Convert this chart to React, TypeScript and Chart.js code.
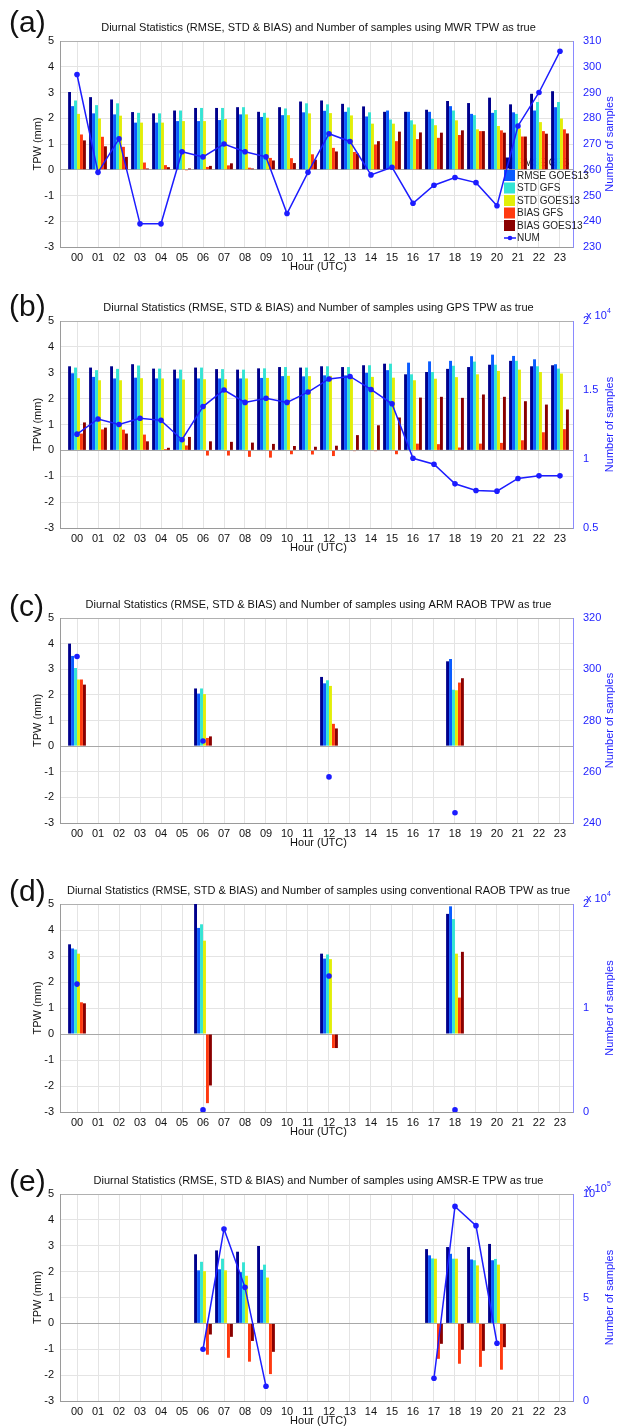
import React, { useEffect, useRef } from "react";
import { Chart, registerables } from "chart.js";

Chart.register(...registerables);

const FONT = "'Liberation Sans', Arial, Helvetica, sans-serif";

// ---------- categories ----------
const HOURS = [0, 1, 2, 3, 4, 5, 6, 7, 8, 9, 10, 11, 12, 13, 14, 15, 16, 17, 18, 19, 20, 21, 22, 23];
const HOUR_LABELS = ["00", "01", "02", "03", "04", "05", "06", "07", "08", "09", "10", "11", "12", "13", "14", "15", "16", "17", "18", "19", "20", "21", "22", "23"];
const SERIES = ["RMSE GFS", "RMSE GOES13", "STD GFS", "STD GOES13", "BIAS GFS", "BIAS GOES13"];
const COLORS = ["#00008c", "#0a5cff", "#34e4d4", "#e2ee08", "#ff3a10", "#8a0000"];
const NUM_COLOR = "#1c1cff";
const Y_TICKS = [-3, -2, -1, 0, 1, 2, 3, 4, 5];

// ---------- (a) MWR ----------
const A_RMSE_GFS = [3.02, 2.82, 2.73, 2.24, 2.19, 2.30, 2.40, 2.40, 2.43, 2.25, 2.43, 2.65, 2.69, 2.56, 2.46, 2.25, 2.25, 2.33, 2.67, 2.59, 2.80, 2.54, 2.95, 3.05];
const A_RMSE_GOES = [2.47, 2.19, 2.15, 1.83, 1.83, 1.89, 1.89, 1.93, 2.15, 2.05, 2.12, 2.23, 2.29, 2.25, 2.07, 2.30, 2.25, 2.25, 2.47, 2.17, 2.21, 2.23, 2.30, 2.43];
const A_STD_GFS = [2.69, 2.51, 2.58, 2.21, 2.19, 2.30, 2.40, 2.40, 2.43, 2.21, 2.38, 2.58, 2.54, 2.42, 2.23, 1.95, 1.92, 1.98, 2.30, 2.12, 2.32, 2.17, 2.63, 2.63];
const A_STD_GOES = [2.17, 1.99, 2.10, 1.83, 1.83, 1.89, 1.89, 1.97, 2.15, 2.02, 2.12, 2.19, 2.20, 2.11, 1.79, 1.79, 1.76, 1.73, 1.92, 1.57, 1.70, 1.60, 1.85, 1.99];
const A_BIAS_GFS = [1.37, 1.28, 0.89, 0.28, 0.18, -0.03, 0.11, 0.17, 0.08, 0.46, 0.45, 0.60, 0.85, 0.69, 0.98, 1.11, 1.19, 1.24, 1.35, 1.50, 1.53, 1.29, 1.50, 1.57];
const A_BIAS_GOES = [1.14, 0.91, 0.50, 0.05, 0.10, 0.05, 0.15, 0.25, 0.05, 0.36, 0.26, 0.39, 0.71, 0.63, 1.11, 1.48, 1.45, 1.44, 1.53, 1.50, 1.44, 1.29, 1.40, 1.41];
const A_NUM = [297, 259, 272, 239, 239, 267, 265, 270, 267, 265, 243, 259, 274, 271, 258, 261, 247, 254, 257, 255, 246, 277, 290, 306];
const A_NUM_TICKS = [230, 240, 250, 260, 270, 280, 290, 300, 310];

// ---------- (b) GPS ----------
const B_RMSE_GFS = [3.25, 3.20, 3.25, 3.33, 3.16, 3.12, 3.20, 3.14, 3.12, 3.17, 3.22, 3.20, 3.25, 3.22, 3.29, 3.35, 2.94, 3.03, 3.15, 3.22, 3.31, 3.46, 3.25, 3.29];
const B_RMSE_GOES = [2.98, 2.84, 2.78, 2.81, 2.78, 2.78, 2.78, 2.78, 2.78, 2.80, 2.87, 2.86, 2.90, 2.90, 3.00, 3.10, 3.39, 3.44, 3.46, 3.64, 3.70, 3.65, 3.52, 3.33];
const B_STD_GFS = [3.20, 3.10, 3.15, 3.28, 3.16, 3.12, 3.20, 3.14, 3.12, 3.17, 3.22, 3.20, 3.25, 3.22, 3.29, 3.35, 2.94, 3.03, 3.27, 3.43, 3.31, 3.46, 3.25, 3.16];
const B_STD_GOES = [2.79, 2.71, 2.71, 2.79, 2.78, 2.74, 2.75, 2.75, 2.78, 2.80, 2.88, 2.87, 2.88, 2.84, 2.84, 2.81, 2.71, 2.77, 2.83, 2.94, 3.07, 3.12, 3.03, 2.97];
const B_BIAS_GFS = [0.65, 0.81, 0.80, 0.61, 0.05, 0.19, -0.20, -0.20, -0.25, -0.28, -0.15, -0.16, -0.22, -0.03, -0.03, -0.15, 0.26, 0.24, 0.11, 0.26, 0.29, 0.39, 0.70, 0.82];
const B_BIAS_GOES = [1.08, 0.88, 0.65, 0.35, 0.10, 0.52, 0.35, 0.33, 0.30, 0.25, 0.17, 0.14, 0.18, 0.59, 0.97, 1.27, 2.04, 2.07, 2.03, 2.16, 2.07, 1.90, 1.77, 1.58];
const B_NUM = [11800, 12900, 12500, 12950, 12800, 11400, 13800, 15000, 14100, 14400, 14100, 14850, 15800, 15980, 15040, 14000, 10050, 9620, 8200, 7720, 7670, 8590, 8780, 8780];
const B_NUM_TICKS = [5000, 10000, 15000, 20000];

// ---------- (c) ARM RAOB ----------
const C_HOURS = [0, 6, 12, 18];
const C_RMSE_GFS = [4.0, 2.25, 2.70, 3.31];
const C_RMSE_GOES = [3.52, 2.05, 2.45, 3.40];
const C_STD_GFS = [3.05, 2.25, 2.57, 2.20];
const C_STD_GOES = [2.60, 2.03, 2.35, 2.18];
const C_BIAS_GFS = [2.60, 0.32, 0.87, 2.48];
const C_BIAS_GOES = [2.40, 0.38, 0.69, 2.65];
const C_NUM = [305, 272, 258, 244];
const C_NUM_TICKS = [240, 260, 280, 300, 320];

// ---------- (d) conventional RAOB ----------
const D_HOURS = [0, 6, 12, 18];
const D_RMSE_GFS = [3.45, 5.0, 3.09, 4.62];
const D_RMSE_GOES = [3.29, 4.08, 2.90, 4.91];
const D_STD_GFS = [3.25, 4.22, 3.06, 4.42];
const D_STD_GOES = [3.09, 3.59, 2.88, 3.09];
const D_BIAS_GFS = [1.22, -2.66, -0.54, 1.40];
const D_BIAS_GOES = [1.18, -1.98, -0.54, 3.16];
const D_NUM = [12300, 200, 13070, 200];
const D_NUM_TICKS = [0, 10000, 20000];

// ---------- (e) AMSR-E ----------
const E_HOURS = [6, 7, 8, 9, 17, 18, 19, 20];
const E_RMSE_GFS = [2.67, 2.82, 2.77, 2.99, 2.87, 2.95, 2.95, 3.07];
const E_RMSE_GOES = [2.05, 2.09, 1.98, 2.07, 2.63, 2.69, 2.47, 2.44];
const E_STD_GFS = [2.38, 2.50, 2.36, 2.27, 2.51, 2.50, 2.44, 2.49];
const E_STD_GOES = [2.02, 2.05, 1.84, 1.77, 2.50, 2.50, 2.24, 2.27];
const E_BIAS_GFS = [-1.21, -1.33, -1.48, -1.96, -1.37, -1.56, -1.68, -1.79];
const E_BIAS_GOES = [-0.43, -0.52, -0.68, -1.10, -0.79, -1.02, -1.06, -0.92];
const E_NUM = [250000, 831000, 549000, 71000, 110000, 940000, 847000, 279000];
const E_NUM_TICKS = [0, 500000, 1000000];

type PanelCfg = {
  letter: string;
  letterY: number;
  title: string;
  top: number;
  plotH: number;
  hours: number[];
  series: number[][];
  num: number[];
  numTicks: number[];
  numScale: number;
  exp: string | null;
  legend: boolean;
};

const PANELS: PanelCfg[] = [
  {
    letter: "(a)", letterY: 31, top: 1, plotH: 206,
    title: "Diurnal Statistics (RMSE, STD & BIAS) and Number of samples using MWR TPW as true",
    hours: HOURS, series: [A_RMSE_GFS, A_RMSE_GOES, A_STD_GFS, A_STD_GOES, A_BIAS_GFS, A_BIAS_GOES],
    num: A_NUM, numTicks: A_NUM_TICKS, numScale: 1, exp: null, legend: true,
  },
  {
    letter: "(b)", letterY: 35, top: 281, plotH: 207,
    title: "Diurnal Statistics (RMSE, STD & BIAS) and Number of samples using GPS TPW as true",
    hours: HOURS, series: [B_RMSE_GFS, B_RMSE_GOES, B_STD_GFS, B_STD_GOES, B_BIAS_GFS, B_BIAS_GOES],
    num: B_NUM, numTicks: B_NUM_TICKS, numScale: 10000, exp: "4", legend: false,
  },
  {
    letter: "(c)", letterY: 38, top: 578, plotH: 205,
    title: "Diurnal Statistics (RMSE, STD & BIAS) and Number of samples using ARM RAOB TPW as true",
    hours: C_HOURS, series: [C_RMSE_GFS, C_RMSE_GOES, C_STD_GFS, C_STD_GOES, C_BIAS_GFS, C_BIAS_GOES],
    num: C_NUM, numTicks: C_NUM_TICKS, numScale: 1, exp: null, legend: false,
  },
  {
    letter: "(d)", letterY: 37, top: 864, plotH: 208,
    title: "Diurnal Statistics (RMSE, STD & BIAS) and Number of samples using conventional RAOB TPW as true",
    hours: D_HOURS, series: [D_RMSE_GFS, D_RMSE_GOES, D_STD_GFS, D_STD_GOES, D_BIAS_GFS, D_BIAS_GOES],
    num: D_NUM, numTicks: D_NUM_TICKS, numScale: 10000, exp: "4", legend: false,
  },
  {
    letter: "(e)", letterY: 37, top: 1154, plotH: 207,
    title: "Diurnal Statistics (RMSE, STD & BIAS) and Number of samples using AMSR-E TPW as true",
    hours: E_HOURS, series: [E_RMSE_GFS, E_RMSE_GOES, E_STD_GFS, E_STD_GOES, E_BIAS_GFS, E_BIAS_GOES],
    num: E_NUM, numTicks: E_NUM_TICKS, numScale: 100000, exp: "5", legend: false,
  },
];

const decor = {
  id: "decor",
  beforeDatasetsDraw(chart: any, _args: any, opts: any) {
    if (!opts.legend) return;
    const ctx = chart.ctx;
    const ca = chart.chartArea;
    const x0 = 504;
    const y0 = ca.top + 122;
    ctx.save();
    ctx.font = `10px ${FONT}`;
    ctx.textBaseline = "middle";
    ctx.textAlign = "left";
    const ds = chart.data.datasets;
    for (let i = 0; i < ds.length; i++) {
      const y = y0 + i * 12.5;
      const d = ds[i];
      if (d.type === "line") {
        ctx.strokeStyle = d.borderColor;
        ctx.lineWidth = 1.5;
        ctx.beginPath();
        ctx.moveTo(x0, y);
        ctx.lineTo(x0 + 12, y);
        ctx.stroke();
        ctx.fillStyle = d.borderColor;
        ctx.beginPath();
        ctx.arc(x0 + 6, y, 2.3, 0, Math.PI * 2);
        ctx.fill();
      } else {
        ctx.fillStyle = d.backgroundColor;
        ctx.fillRect(x0, y - 5.5, 11, 11);
      }
      ctx.fillStyle = "#222";
      ctx.fillText(d.label, x0 + 13, y + 0.5);
    }
    ctx.restore();
  },
  afterDraw(chart: any, _args: any, opts: any) {
    const ctx = chart.ctx;
    const ca = chart.chartArea;
    const midX = (ca.left + ca.right) / 2;
    const midY = (ca.top + ca.bottom) / 2;
    ctx.save();
    ctx.fillStyle = "#111";
    ctx.font = `30px ${FONT}`;
    ctx.textAlign = "left";
    ctx.textBaseline = "alphabetic";
    ctx.fillText(opts.letter, 9, opts.letterY);
    ctx.font = `11px ${FONT}`;
    ctx.textAlign = "center";
    ctx.textBaseline = "middle";
    ctx.fillText(opts.title, midX + 2, ca.top - 13.5);
    ctx.fillText("Hour (UTC)", midX + 2, ca.bottom + 20);
    ctx.save();
    ctx.translate(38, midY);
    ctx.rotate(-Math.PI / 2);
    ctx.fillText("TPW (mm)", 0, 0);
    ctx.restore();
    ctx.fillStyle = NUM_COLOR;
    ctx.save();
    ctx.translate(610, midY);
    ctx.rotate(-Math.PI / 2);
    ctx.fillText("Number of samples", 0, 0);
    ctx.restore();
    if (opts.exp) {
      ctx.textAlign = "left";
      ctx.textBaseline = "alphabetic";
      ctx.font = `11px ${FONT}`;
      ctx.fillText("x 10", 586, ca.top - 2);
      ctx.font = `7px ${FONT}`;
      ctx.fillText(opts.exp, 607, ca.top - 8);
    }
    ctx.restore();
  },
};

function Panel({ cfg }: { cfg: PanelCfg }) {
  const ref = useRef<HTMLCanvasElement | null>(null);
  const H = 40 + cfg.plotH + 27;

  useEffect(() => {
    if (!ref.current) return;
    const datasets: any[] = cfg.series.map((vals, k) => ({
      type: "bar",
      label: SERIES[k],
      data: cfg.hours.map((h, i) => ({ x: h, y: vals[i] })),
      backgroundColor: COLORS[k],
      borderWidth: 0,
      yAxisID: "y",
      order: 2,
      categoryPercentage: 0.85,
      barPercentage: 0.98,
    }));
    datasets.push({
      type: "line",
      label: "NUM",
      data: HOURS.map((h) => {
        const i = cfg.hours.indexOf(h);
        return { x: h, y: i >= 0 ? cfg.num[i] : null };
      }),
      borderColor: NUM_COLOR,
      backgroundColor: NUM_COLOR,
      borderWidth: 1.5,
      pointRadius: 2.8,
      pointBorderWidth: 0,
      pointBackgroundColor: NUM_COLOR,
      spanGaps: false,
      yAxisID: "y2",
      order: 0,
    });

    const tickFont = { family: FONT, size: 11 };
    const chart = new Chart(ref.current, {
      type: "bar",
      data: { datasets },
      plugins: [decor as any],
      options: {
        responsive: false,
        animation: false,
        events: [],
        layout: { padding: { top: 40, left: 0, right: 0, bottom: 0 } },
        plugins: {
          legend: { display: false },
          tooltip: { enabled: false },
          decor: {
            letter: cfg.letter,
            letterY: cfg.letterY,
            title: cfg.title,
            exp: cfg.exp,
            legend: cfg.legend,
          },
        } as any,
        scales: {
          x: {
            type: "linear",
            min: -0.81,
            max: 23.62,
            offset: false,
            afterBuildTicks: (s: any) => {
              s.ticks = HOURS.map((v) => ({ value: v }));
            },
            afterFit: (s: any) => {
              s.height = 27;
            },
            ticks: {
              autoSkip: false,
              maxRotation: 0,
              padding: 4,
              color: "#111",
              font: tickFont,
              callback: (v: any) => HOUR_LABELS[HOURS.indexOf(Number(v))] ?? "",
            },
            grid: { offset: false, drawTicks: false, color: "#e4e4e4", lineWidth: 1 },
            border: { display: true, color: "#9a9a9a" },
          },
          y: {
            type: "linear",
            position: "left",
            min: -3,
            max: 5,
            afterBuildTicks: (s: any) => {
              s.ticks = Y_TICKS.map((v) => ({ value: v }));
            },
            afterFit: (s: any) => {
              s.width = 60;
            },
            ticks: { padding: 6, color: "#111", font: tickFont },
            grid: {
              drawTicks: false,
              color: (c: any) =>
                c.tick && c.tick.value === 0 ? "#a8a8a8" : c.tick && c.tick.value === 5 ? "#b0b0b0" : "#e4e4e4",
              lineWidth: 1,
            },
            border: { display: true, color: "#9a9a9a" },
          },
          y2: {
            type: "linear",
            position: "right",
            min: cfg.numTicks[0],
            max: cfg.numTicks[cfg.numTicks.length - 1],
            afterBuildTicks: (s: any) => {
              s.ticks = cfg.numTicks.map((v) => ({ value: v }));
            },
            afterFit: (s: any) => {
              s.width = 48;
            },
            ticks: {
              padding: 10,
              color: NUM_COLOR,
              font: tickFont,
              callback: (v: any) => String(Number(v) / cfg.numScale),
            },
            grid: { drawOnChartArea: false, drawTicks: false },
            border: { display: true, color: "#8a8aff" },
          },
        },
      } as any,
    });
    return () => chart.destroy();
  }, [cfg]);

  return (
    <canvas
      ref={ref}
      width={621}
      height={H}
      style={{ position: "absolute", left: 0, top: cfg.top, width: 621, height: H }}
    />
  );
}

export default function App() {
  return (
    <div
      style={{
        position: "absolute",
        left: 0,
        top: 0,
        width: 621,
        height: 1427,
        overflow: "hidden",
        background: "#ffffff",
      }}
    >
      {PANELS.map((p) => (
        <Panel key={p.letter} cfg={p} />
      ))}
    </div>
  );
}
